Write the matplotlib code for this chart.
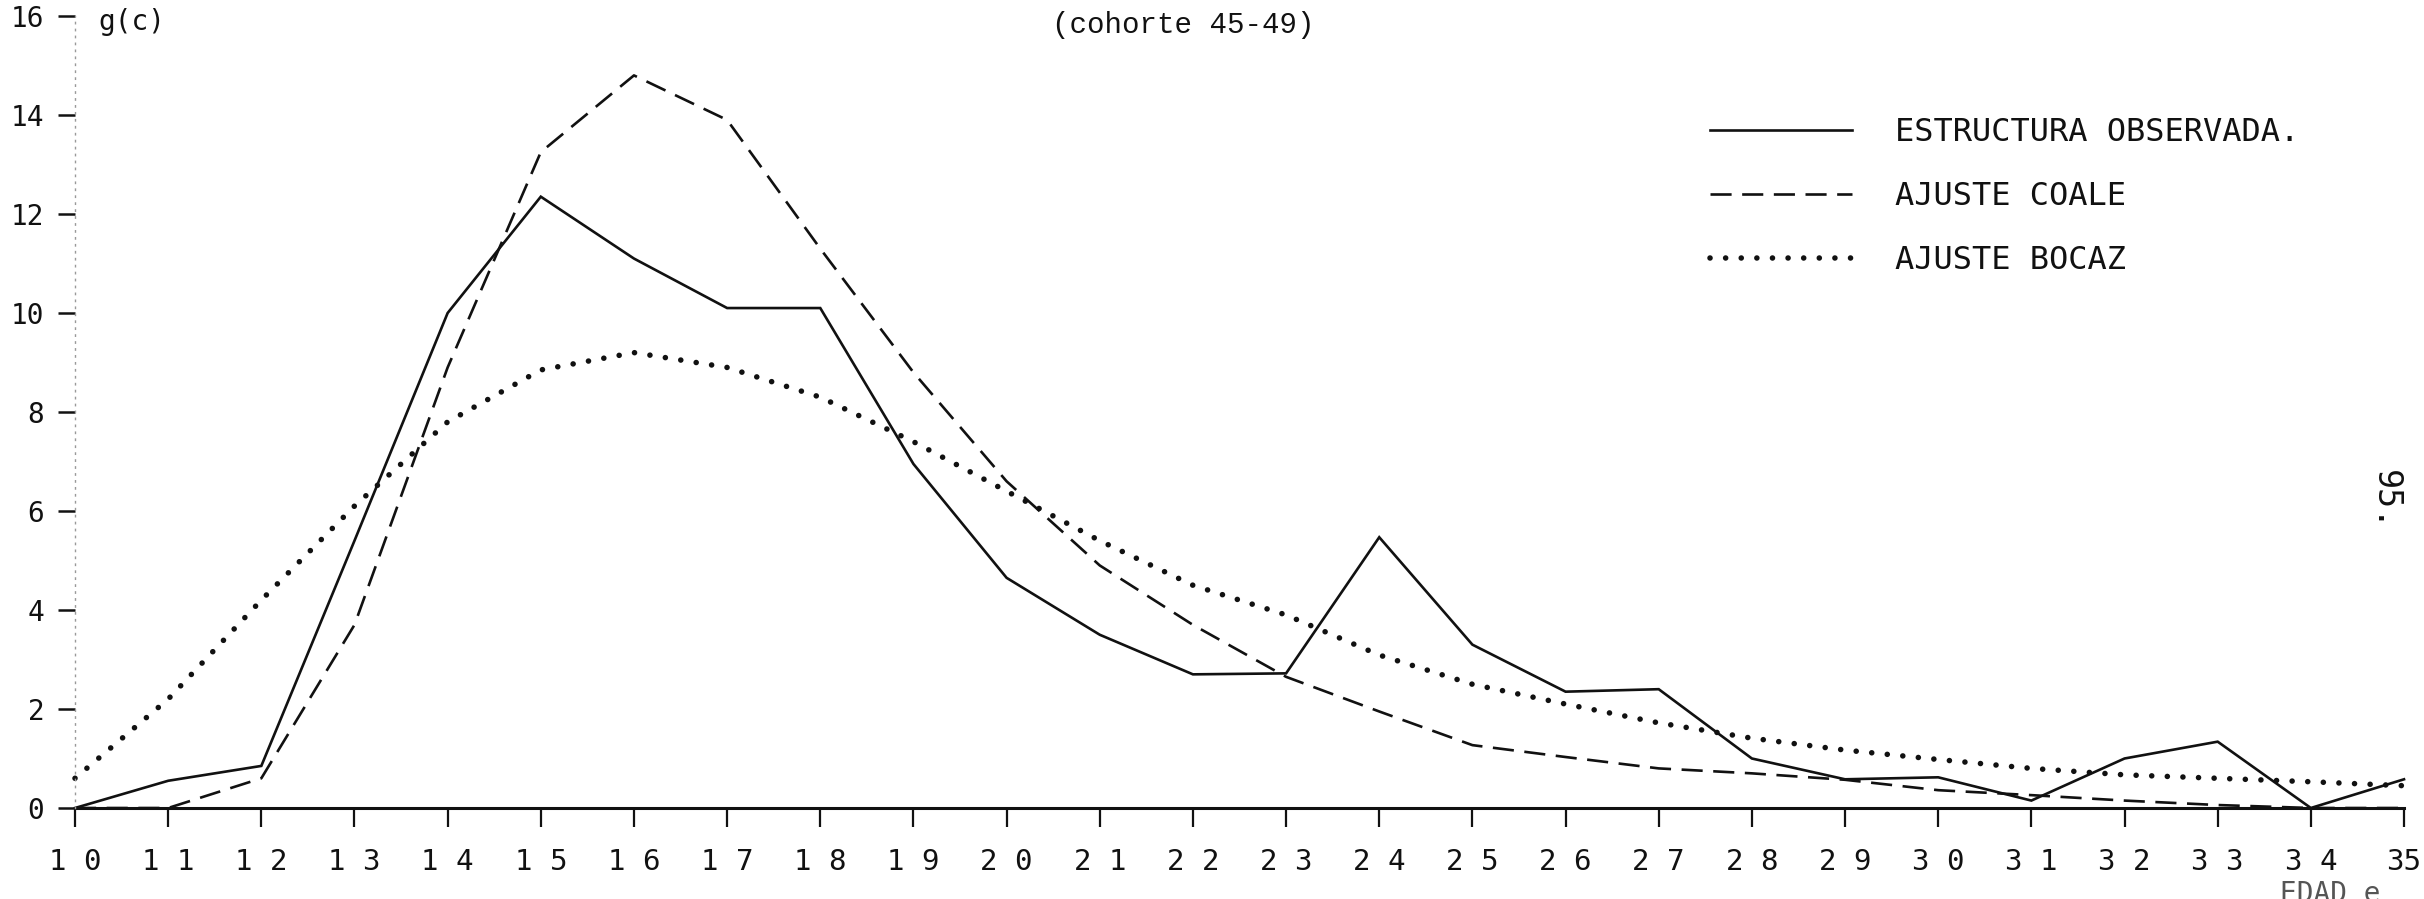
import matplotlib
matplotlib.use('Agg')
import matplotlib.pyplot as plt

# edades (eje x)
ages = list(range(10, 36))
age_labels = ['1 0', '1 1', '1 2', '1 3', '1 4', '1 5', '1 6', '1 7', '1 8', '1 9',
              '2 0', '2 1', '2 2', '2 3', '2 4', '2 5', '2 6', '2 7', '2 8', '2 9',
              '3 0', '3 1', '3 2', '3 3', '3 4', '35']

# g(c)
observada = [0.0, 0.55, 0.85, 5.4, 10.0, 12.35, 11.1, 10.1, 10.1, 6.95,
             4.65, 3.5, 2.7, 2.72, 5.47, 3.3, 2.35, 2.4, 1.0, 0.58,
             0.62, 0.15, 1.0, 1.34, 0.0, 0.58]
coale = [0.0, 0.0, 0.6, 3.7, 8.9, 13.25, 14.8, 13.9, 11.3, 8.8,
         6.6, 4.9, 3.7, 2.65, 1.95, 1.27, 1.03, 0.8, 0.7, 0.57,
         0.36, 0.26, 0.15, 0.06, 0.0, 0.0]
bocaz = [0.6, 2.2, 4.2, 6.1, 7.8, 8.85, 9.2, 8.9, 8.3, 7.4,
         6.4, 5.4, 4.5, 3.9, 3.09, 2.5, 2.1, 1.72, 1.41, 1.17,
         0.98, 0.8, 0.67, 0.6, 0.53, 0.45]

y_ticks = [0, 2, 4, 6, 8, 10, 12, 14, 16]
series_names = ['ESTRUCTURA OBSERVADA.', 'AJUSTE COALE', 'AJUSTE BOCAZ']

W, H = 2424, 899
ink = '#111111'
mono = 'DejaVu Sans Mono'

fig = plt.figure(figsize=(W / 100, H / 100), dpi=100)
x0, x1, y0, y1 = 75, 2404, 808, 16
ax = fig.add_axes([x0 / W, (H - y0) / H, (x1 - x0) / W, (y0 - y1) / H])
ax.set_xlim(10, 35)
ax.set_ylim(0, 16)

ax.plot(ages, observada, color=ink, lw=1.9, solid_joinstyle='miter',
        label=series_names[0], clip_on=False)
ax.plot(ages, coale, color=ink, lw=1.9, linestyle=(0, (8, 4)),
        label=series_names[1], clip_on=False)
ax.plot(ages, bocaz, color=ink, lw=4.0, linestyle=(0, (0.01, 2.8)),
        dash_capstyle='round', label=series_names[2], clip_on=False)

for side in ['top', 'right']:
    ax.spines[side].set_visible(False)
ax.spines['bottom'].set_color(ink)
ax.spines['bottom'].set_linewidth(2.2)
ax.spines['bottom'].set_zorder(0)
ax.spines['left'].set_color('#999999')
ax.spines['left'].set_linewidth(1.0)
ax.spines['left'].set_linestyle((0, (1, 4)))

ax.set_xticks(ages)
ax.set_xticklabels(age_labels, fontfamily=mono, fontsize=21, color=ink)
ax.set_yticks(y_ticks)
ax.set_yticklabels([str(v) for v in y_ticks], fontfamily=mono, fontsize=20, color=ink)
ax.tick_params(axis='x', direction='out', length=14, width=1.6, pad=15, colors=ink)
ax.tick_params(axis='y', direction='out', length=12, width=1.8, pad=10, colors=ink)

fig.text(98 / W, 1 - 22 / H, 'g(c)', fontfamily=mono, fontsize=20, color=ink,
         ha='left', va='center')
fig.text(1183 / W, 1 - 25 / H, '(cohorte 45-49)', fontfamily='Liberation Mono',
         fontsize=21, color=ink, ha='center', va='center')
fig.text(2385 / W, 1 - 500 / H, '95.', fontfamily=mono, fontsize=24, color=ink,
         ha='center', va='center', rotation=-90)
fig.text(2330 / W, 1 - 880 / H, 'EDAD e', fontfamily=mono, fontsize=20,
         color='#555555', ha='center', va='top')

ax.legend(loc='upper left', bbox_to_anchor=(1710 / W, 1 - 117 / H),
          bbox_transform=fig.transFigure, frameon=False, borderpad=0,
          borderaxespad=0, handlelength=4.45, handletextpad=1.35,
          labelspacing=1.04, prop={'family': mono, 'size': 23},
          labelcolor=ink)

fig.savefig('out.png', dpi=100, facecolor='white')
